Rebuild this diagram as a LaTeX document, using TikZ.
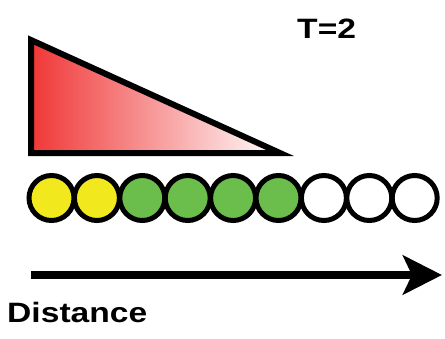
\documentclass[tikz,border=0pt]{standalone}
\usepackage{fontspec}
\setmainfont{Liberation Sans}
\usetikzlibrary{arrows.meta}
\definecolor{cellyellow}{RGB}{242,232,30}
\definecolor{cellgreen}{RGB}{108,190,76}
\definecolor{wedgered}{RGB}{240,55,55}
\tikzset{
  cell/.style={circle, draw=black, line width=5pt, minimum size=45pt, inner sep=0pt},
  label text/.style={font=\fontsize{28}{30}\selectfont\bfseries, inner sep=0pt, anchor=base west, xscale=1.2},
}
\begin{document}
\begin{tikzpicture}[x=1pt, y=-1pt]
  \useasboundingbox (0,0) rectangle (445,338);

  % concentration wedge
  \draw[line width=6pt, miter limit=20, left color=wedgered, right color=white]
    (31,40) -- (31,153) -- (280,153) -- cycle;

  % row of cells
  \foreach \i/\c in {1/cellyellow,2/cellyellow,3/cellgreen,4/cellgreen,5/cellgreen,6/cellgreen,7/white,8/white,9/white}
    \node[cell, fill=\c] (c\i) at ({51.5+45.4*(\i-1)},198) {};

  % distance axis
  \coordinate (axstart) at (31,275);
  \coordinate (axend) at (442,275);
  \draw[line width=8pt, -{Stealth[length=39pt, width=39pt, inset=9pt]}] (axstart) -- (axend);

  \node[label text] (dist) at (7,322) {Distance};
  \node[label text] (time) at (297,38) {T=2};
\end{tikzpicture}
\end{document}
